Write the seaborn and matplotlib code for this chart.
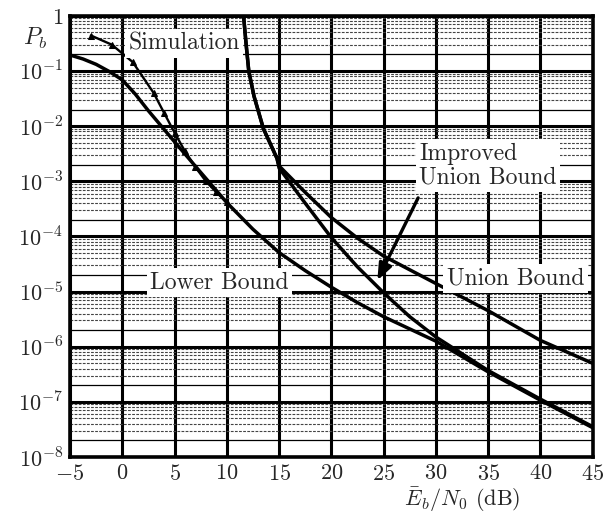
import numpy as np
import pandas as pd
import seaborn as sns
import matplotlib
matplotlib.use('Agg')
import matplotlib.pyplot as plt
from matplotlib.ticker import FixedLocator, NullFormatter


# values (Eb/N0 in dB, Pb)
sim_snr = [-3, -1, 1, 3, 4, 5, 6, 7, 8, 9, 10]
sim_pb = [0.44, 0.30, 0.145, 0.04, 0.0174, 7.6e-3, 3.5e-3, 1.8e-3, 1.0e-3, 6.3e-4, 4.2e-4]

lower_snr = [-5, -3.75, -2.5, -1.25, 0, 1.25, 2.5, 5, 7.5, 10, 12.5, 15, 17.5, 20, 22.5,
             25, 27.5, 30, 35, 40, 45]
lower_pb = [0.195, 0.165, 0.132, 0.098, 0.069, 0.038, 0.019, 5.2e-3, 1.45e-3, 4.1e-4,
            1.35e-4, 5.1e-5, 2.4e-5, 1.2e-5, 6.3e-6, 3.5e-6, 2.1e-6, 1.26e-6, 3.5e-7,
            1.07e-7, 3.4e-8]

union_snr = [11.6, 11.85, 12.1, 12.6, 13.5, 14.8, 15.0, 17.5, 20, 22.5, 25, 30, 35, 40, 45]
union_pb = [1.0, 0.3, 0.1, 0.035, 9.0e-3, 2.6e-3, 1.9e-3, 6.3e-4, 2.2e-4, 9.3e-5,
            4.4e-5, 1.4e-5, 4.5e-6, 1.3e-6, 5.0e-7]

improved_snr = [11.6, 11.85, 12.1, 12.6, 13.5, 14.8, 15.0, 17.5, 20, 22.5, 25, 27.5, 30,
                35, 40, 45]
improved_pb = [1.0, 0.3, 0.1, 0.035, 9.0e-3, 2.6e-3, 1.74e-3, 4.0e-4, 9.5e-5, 2.8e-5,
               9.5e-6, 3.5e-6, 1.5e-6, 3.7e-7, 1.12e-7, 3.55e-8]

x_ticks = [-5, 0, 5, 10, 15, 20, 25, 30, 35, 40, 45]
y_ticks = [1e-8, 1e-7, 1e-6, 1e-5, 1e-4, 1e-3, 1e-2, 1e-1, 1]
y_tick_labels = ['$10^{-8}$', '$10^{-7}$', '$10^{-6}$', '$10^{-5}$', '$10^{-4}$',
                 '$10^{-3}$', '$10^{-2}$', '$10^{-1}$', '$1$']


def main() -> None:

    sns.set_style('white')
    plt.rcParams['font.family'] = ['cmr10', 'DejaVu Serif']
    plt.rcParams['mathtext.fontset'] = 'cm'
    plt.rcParams['axes.formatter.use_mathtext'] = True

    fig = plt.figure(figsize=(6.15, 5.16), dpi=100)
    ax = fig.add_axes([0.1138, 0.1143, 0.850, 0.855])
    ax.set_yscale('log')

    # graph-paper style grid
    decades = [10.0 ** k for k in range(-8, 0)]
    for d in decades:
        for s in range(3, 10):
            ax.axhline(s * d, color='#444444', lw=0.8, ls=(0, (2.5, 1.2)), zorder=1)
        ax.axhline(2 * d, color='black', lw=0.9, zorder=1)
    ax.yaxis.set_minor_formatter(NullFormatter())
    ax.yaxis.set_minor_locator(FixedLocator([]))
    ax.set_yticks(y_ticks)
    ax.set_yticklabels(y_tick_labels)
    ax.set_xticks(x_ticks)
    ax.grid(True, which='major', color='black', lw=2.2, zorder=2)

    lw = 2.5
    sns.lineplot(x=lower_snr, y=lower_pb, ax=ax, color='black', lw=lw,
                 estimator=None, sort=False, zorder=5)
    sns.lineplot(x=union_snr, y=union_pb, ax=ax, color='black', lw=lw,
                 estimator=None, sort=False, zorder=5)
    sns.lineplot(x=improved_snr, y=improved_pb, ax=ax, color='black', lw=lw,
                 estimator=None, sort=False, zorder=5)
    sns.lineplot(x=sim_snr, y=sim_pb, ax=ax, color='black', lw=1.7,
                 marker='^', markersize=5, markeredgecolor='black',
                 estimator=None, sort=False, zorder=6)

    ax.set_xlim(-5, 45)
    ax.set_ylim(1e-8, 1)

    box = dict(facecolor='white', edgecolor='none', pad=2.5)
    fs = 17
    ax.text(5.9, 0.31, 'Simulation', fontsize=fs, ha='center', va='center', bbox=box, zorder=8)
    ax.text(28.4, 1.9e-3, 'Improved\nUnion Bound', fontsize=fs, ha='left', va='center',
            linespacing=1.1, bbox=box, zorder=8)
    ax.text(9.3, 1.45e-5, 'Lower Bound', fontsize=fs, ha='center', va='center', bbox=box, zorder=8)
    ax.text(37.6, 1.75e-5, 'Union Bound', fontsize=fs, ha='center', va='center', bbox=box, zorder=8)

    ax.annotate('', xy=(24.4, 1.6e-5), xytext=(28.3, 5.0e-4),
                arrowprops=dict(arrowstyle='-|>,head_length=1.0,head_width=0.4',
                                color='black', lw=2.4, shrinkA=0, shrinkB=0),
                zorder=9)

    for spine in ax.spines.values():
        spine.set_visible(True)
        spine.set_color('black')
        spine.set_linewidth(2.6)
        spine.set_zorder(10)

    ax.tick_params(axis='both', which='both', length=0, labelsize=16, pad=5)
    ax.set_xlabel('')
    ax.set_ylabel('')

    fig.text(0.057, 0.926, '$P_b$', fontsize=17, ha='center', va='center')
    fig.text(0.751, 0.032, r'$\bar{E}_b/N_0$ (dB)', fontsize=16, ha='center', va='center')

    fig.savefig('out.png', dpi=100)


if __name__ == '__main__':
    main()
